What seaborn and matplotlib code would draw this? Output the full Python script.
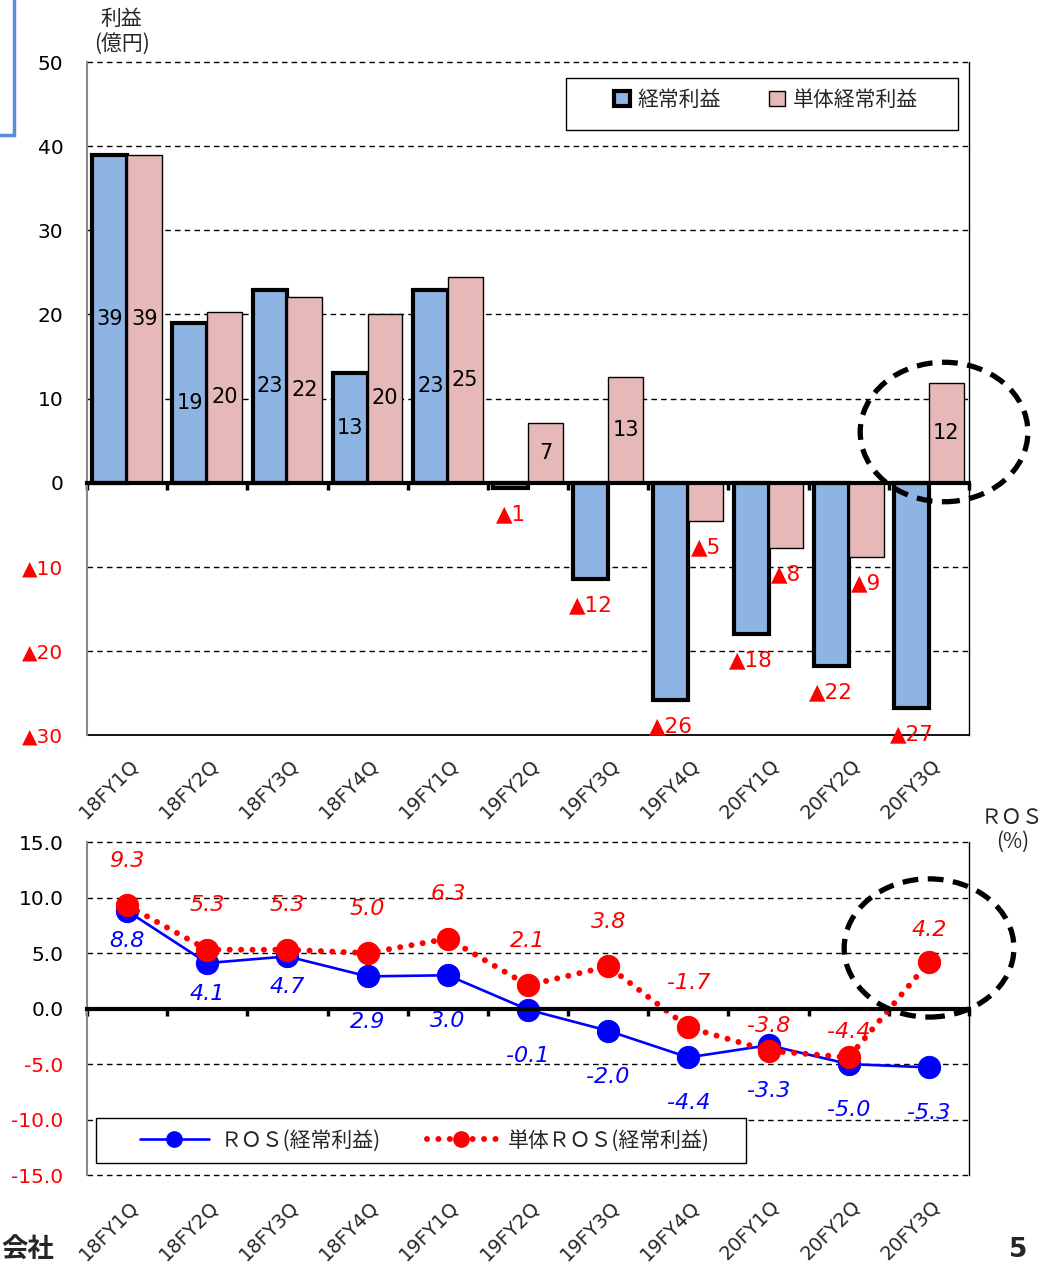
import matplotlib
matplotlib.use("Agg")
import matplotlib.pyplot as plt
import numpy as np
import pandas as pd
import seaborn as sns
from matplotlib.lines import Line2D
from matplotlib.patches import Ellipse, Rectangle
from matplotlib.transforms import blended_transform_factory

quarters = ["18FY1Q", "18FY2Q", "18FY3Q", "18FY4Q", "19FY1Q", "19FY2Q",
            "19FY3Q", "19FY4Q", "20FY1Q", "20FY2Q", "20FY3Q"]

# 利益 (億円)
profit = [39.0, 19.0, 22.9, 13.0, 22.9, -0.6, -11.4, -25.8, -18.0, -21.8, -26.8]
profit_solo = [38.9, 20.3, 22.1, 20.1, 24.5, 7.1, 12.6, -4.5, -7.8, -8.8, 11.9]
profit_lbl = [39, 19, 23, 13, 23, 1, 12, 26, 18, 22, 27]
profit_solo_lbl = [39, 20, 22, 20, 25, 7, 13, 5, 8, 9, 12]

# ROS (%)
ros = [8.8, 4.1, 4.7, 2.9, 3.0, -0.1, -2.0, -4.4, -3.3, -5.0, -5.3]
ros_solo = [9.3, 5.3, 5.3, 5.0, 6.3, 2.1, 3.8, -1.7, -3.8, -4.4, 4.2]

series_names = ["経常利益", "単体経常利益"]
bar_colors = ["#8EB4E3", "#E6B9B8"]
ros_names = ["ＲＯＳ(経常利益)", "単体ＲＯＳ(経常利益)"]

sns.set_theme(style="white")
plt.rcParams["font.family"] = ["DejaVu Sans", "Noto Sans CJK JP"]
CJK = ["Noto Sans CJK JP", "DejaVu Sans"]

fig = plt.figure(figsize=(10.48, 12.68), dpi=100)
ax1 = fig.add_axes([0.083, 0.4203, 0.8416, 0.5308])
ax2 = fig.add_axes([0.083, 0.0733, 0.8416, 0.2626])

# ---------------- top: bars ----------------
df = pd.DataFrame({
    "quarter": quarters * 2,
    "value": profit + profit_solo,
    "series": [series_names[0]] * len(quarters) + [series_names[1]] * len(quarters),
})
sns.barplot(data=df, x="quarter", y="value", hue="series", palette=bar_colors,
            width=0.87, saturation=1, ax=ax1, legend=False)

edge_w = [3.0, 1.0]
for cont, lw, labels in zip(ax1.containers, edge_w, [profit_lbl, profit_solo_lbl]):
    for bar, lab in zip(cont, labels):
        bar.set_edgecolor("black")
        bar.set_linewidth(lw)
        h = bar.get_height()
        cx = bar.get_x() + bar.get_width() / 2
        if h >= 0:
            ax1.text(cx, h / 2, str(lab), ha="center", va="center", fontsize=15, color="black")
        else:
            ax1.annotate(f"▲{lab}", (cx, h), xytext=(0, -19), textcoords="offset points",
                         ha="center", va="center", fontsize=15.5, color="red")

ax1.set_ylim(-30, 50)
ax1.set_xlim(-0.5, len(quarters) - 0.5)
yt1 = list(range(-30, 51, 10))
ax1.set_yticks(yt1)
ax1.set_yticklabels([f"▲{-v}" if v < 0 else str(v) for v in yt1], fontsize=14.5)
for t, v in zip(ax1.get_yticklabels(), yt1):
    t.set_color("red" if v < 0 else "black")
for v in yt1:
    if v not in (0, -30):
        ax1.axhline(v, color="black", lw=1, ls=(0, (4, 3)), zorder=0, clip_on=False)
ax1.axhline(-30, color="black", lw=1.3, zorder=1, clip_on=False)

# ---------------- bottom: ROS lines ----------------
idx = np.arange(len(quarters))
sns.lineplot(x=idx, y=ros, color="blue", lw=1.9, marker="o", markersize=16,
             markeredgecolor="blue", ax=ax2, legend=False)
sns.lineplot(x=idx, y=ros_solo, color="red", lw=4.3, ls=(0, (0.01, 1.9)), marker="o", markersize=16,
             markeredgecolor="red", ax=ax2, legend=False)
ax2.get_lines()[-1].set_dash_capstyle("round")

for x, v in zip(idx, ros):
    dy = -22 if v > 3.5 else -33
    ax2.annotate(f"{v:.1f}", (x, v), xytext=(0, dy), textcoords="offset points",
                 ha="center", va="center", fontsize=16, color="blue", style="italic")
for x, v in zip(idx, ros_solo):
    dy = 18 if v < -3 else (23 if x == len(quarters) - 1 else 32)
    ax2.annotate(f"{v:.1f}", (x, v), xytext=(0, dy), textcoords="offset points",
                 ha="center", va="center", fontsize=16, color="red", style="italic")

ax2.set_ylim(-15, 15)
ax2.set_xlim(-0.5, len(quarters) - 0.5)
yt2 = list(range(-15, 16, 5))
ax2.set_yticks(yt2)
ax2.set_yticklabels([f"{v:.1f}" for v in yt2], fontsize=14.5)
for t, v in zip(ax2.get_yticklabels(), yt2):
    t.set_color("red" if v < 0 else "black")
for v in yt2:
    if v != 0:
        ax2.axhline(v, color="black", lw=1, ls=(0, (4, 3)), zorder=0, clip_on=False)

# bottom legend: frame drawn separately so its size can follow the reference
ax2.add_patch(Rectangle((0.0102, 0.036), 0.737, 0.135, transform=ax2.transAxes,
                        facecolor="white", edgecolor="black", lw=1, zorder=6))
ros_handles = [
    Line2D([], [], color="blue", lw=1.9, marker="o", markersize=11),
    Line2D([], [], color="red", lw=4.3, ls=(0, (0.01, 1.9)), marker="o", markersize=11,
           dash_capstyle="round"),
]
leg2 = ax2.legend(ros_handles, ros_names, loc="center left", bbox_to_anchor=(0.06, 0.104),
                  ncol=2, frameon=False, handlelength=3.3, handletextpad=0.6,
                  columnspacing=2.2, borderpad=0, borderaxespad=0,
                  prop={"family": CJK, "size": 15})
leg2.set_zorder(7)

# ---------------- shared axis styling ----------------
for ax, ylab in ((ax1, -0.03), (ax2, -0.065)):
    ax.set_xlabel("")
    ax.set_ylabel("")
    ax.spines["left"].set_color("#888888")
    ax.spines["left"].set_linewidth(1.5)
    ax.spines["right"].set_color("black")
    ax.spines["right"].set_linewidth(1)
    ax.spines["top"].set_visible(False)
    ax.spines["bottom"].set_position(("data", 0))
    ax.spines["bottom"].set_linewidth(3)
    ax.spines["bottom"].set_color("black")
    ax.spines["bottom"].set_zorder(5)
    ax.set_xticks(idx)
    ax.set_xticklabels([])
    ax.tick_params(axis="x", which="major", length=0)
    ax.set_xticks(np.arange(-0.5, len(quarters), 1.0), minor=True)
    ax.tick_params(axis="x", which="minor", direction="out", length=5, width=2.5, color="black",
                   bottom=True)
    ax.tick_params(axis="y", length=0, pad=17)
    trans = blended_transform_factory(ax.transData, ax.transAxes)
    for x, q in zip(idx, quarters):
        ax.text(x + 0.02, ylab, q, transform=trans, rotation=45,
                ha="right", va="top", rotation_mode="anchor", fontsize=14)

# top legend, same approach
ax1.add_patch(Rectangle((0.543, 0.899), 0.4445, 0.077, transform=ax1.transAxes,
                        facecolor="white", edgecolor="black", lw=1, zorder=6))
leg1_handles = [Rectangle((0, 0), 1, 1, facecolor=bar_colors[0], edgecolor="black", lw=3),
                Rectangle((0, 0), 1, 1, facecolor=bar_colors[1], edgecolor="black", lw=1)]
leg1 = ax1.legend(leg1_handles, series_names, loc="center left", bbox_to_anchor=(0.5975, 0.9435),
                  ncol=2, frameon=False, handlelength=0.75, handleheight=0.75,
                  handletextpad=0.4, columnspacing=2.3, borderpad=0, borderaxespad=0,
                  prop={"family": CJK, "size": 15})
leg1.set_zorder(7)

# axis unit titles
fig.text(0.116, 0.9755, "利益\n(億円)", ha="center", va="center", fontsize=15,
         linespacing=1.15, family=CJK)
fig.text(0.966, 0.3455, "ＲＯＳ\n(%)", ha="center", va="center", fontsize=15,
         linespacing=1.15, family=CJK)

# dashed highlight ellipses
fig.patches.append(Ellipse((0.9008, 0.6593), 0.160, 0.110, transform=fig.transFigure,
                           fill=False, edgecolor="black", lw=3.8, ls=(0, (3, 1.8)), zorder=10))
fig.patches.append(Ellipse((0.8865, 0.2524), 0.162, 0.109, transform=fig.transFigure,
                           fill=False, edgecolor="black", lw=3.8, ls=(0, (3, 1.8)), zorder=10))

# slide remnants
fig.patches.append(Rectangle((-0.05, 1 - 135 / 1268), 0.05 + 14 / 1048, 0.2, transform=fig.transFigure,
                             fill=False, edgecolor="#5B8BD6", lw=2.5))
fig.text(0.001, 0.014, "会社", ha="left", va="center", fontsize=19, fontweight="bold", family=CJK)
fig.text(0.972, 0.014, "5", ha="center", va="center", fontsize=19, fontweight="bold")

fig.savefig("out.png", dpi=100)
